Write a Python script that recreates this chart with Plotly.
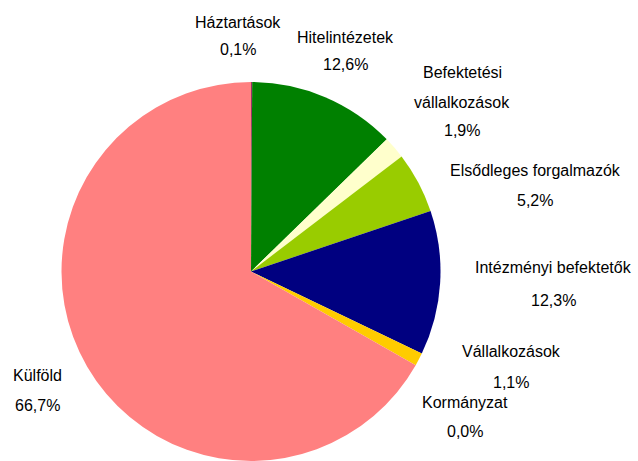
import plotly.graph_objects as go

labels = ["Háztartások", "Hitelintézetek", "Befektetési<br>vállalkozások", "Elsődleges forgalmazók",
          "Intézményi befektetők", "Vállalkozások", "Kormányzat", "Külföld"]
values = [0.1, 12.6, 1.9, 5.2, 12.3, 1.1, 0.0, 66.7]
colors = ["#993366", "#008000", "#FFFFCC", "#99CC00", "#000080", "#FFCC00", "#CCCCCC", "#FF8080"]

# label anchor positions in pixels (x from left, name line y from top, value line y from top)
label_pos = [(238, 22, 50), (345, 37, 65), (462, 87, 130), (535, 170, 200),
             (553, 267, 300), (511, 351, 382), (465, 402, 431), (37, 375, 405)]

W, H = 638, 461
R = 190
CX, CY = 251, 272
fig = go.Figure(go.Pie(
    labels=[l.replace("<br>", " ") for l in labels], values=values, sort=False,
    direction="clockwise", rotation=0,
    marker=dict(colors=colors, line=dict(width=0)),
    textinfo="none", hoverinfo="label+percent",
    domain=dict(x=[(CX - R) / W, (CX + R) / W], y=[(H - CY - R) / H if CY + R < H else 0, (H - CY + R) / H]),
    showlegend=False,
))

annotations = []
for lab, val, (px, py1, py2) in zip(labels, values, label_pos):
    if "<br>" in lab:
        parts = lab.split("<br>")
        annotations.append(dict(x=px / W, y=1 - 72 / H, text=parts[0]))
        annotations.append(dict(x=px / W, y=1 - 102 / H, text=parts[1]))
    else:
        annotations.append(dict(x=px / W, y=1 - py1 / H, text=lab))
    annotations.append(dict(x=px / W, y=1 - py2 / H, text=f"{val:.1f}".replace(".", ",") + "%"))

for a in annotations:
    a.update(xref="paper", yref="paper", showarrow=False, xanchor="center", yanchor="middle",
             font=dict(family="Liberation Sans", size=16, color="#000000"))

fig.update_layout(width=W, height=H, margin=dict(l=0, r=0, t=0, b=0),
                  paper_bgcolor="white", plot_bgcolor="white", annotations=annotations)
fig.write_html("out.html", config={"displayModeBar": False},
               post_script="document.body.style.margin='0px';")
